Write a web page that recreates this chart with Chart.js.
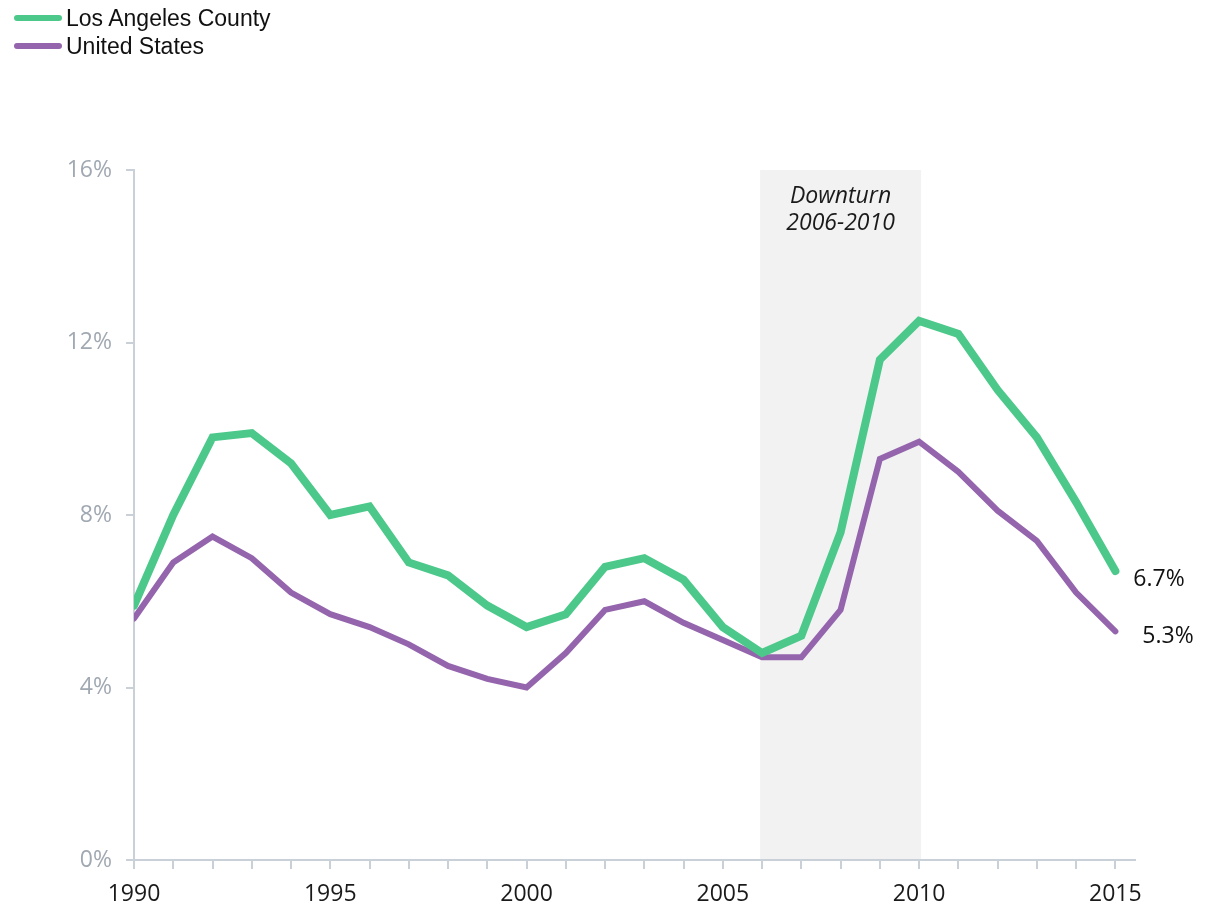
<!DOCTYPE html>
<html>
<head>
<meta charset="utf-8">
<script src="https://cdn.jsdelivr.net/npm/chart.js"></script>
<style>
  html, body { margin: 0; padding: 0; background: #fff; }
  #wrap { position: relative; width: 1217px; height: 907px; }
  #legend { position: absolute; left: 14px; top: 4px; font-family: "Liberation Sans", Arial, sans-serif; font-size: 23px; color: #111; }
  .item { display: flex; align-items: center; height: 28px; }
  .swatch { width: 48px; height: 6px; border-radius: 3px; margin-right: 4px; }
</style>
</head>
<body>
<div id="wrap">
  <canvas id="myChart" width="1217" height="907"></canvas>
  <div id="legend"></div>
</div>
<script>
// unemployment rate, annual averages (%)
const years = [1990, 1991, 1992, 1993, 1994, 1995, 1996, 1997, 1998, 1999,
               2000, 2001, 2002, 2003, 2004, 2005, 2006, 2007, 2008, 2009,
               2010, 2011, 2012, 2013, 2014, 2015]
const laCounty = [5.9, 8.0, 9.8, 9.9, 9.2, 8.0, 8.2, 6.9, 6.6, 5.9,
                  5.4, 5.7, 6.8, 7.0, 6.5, 5.4, 4.8, 5.2, 7.6, 11.6,
                  12.5, 12.2, 10.9, 9.8, 8.3, 6.7]
const unitedStates = [5.6, 6.9, 7.5, 7.0, 6.2, 5.7, 5.4, 5.0, 4.5, 4.2,
                      4.0, 4.8, 5.8, 6.0, 5.5, 5.1, 4.7, 4.7, 5.8, 9.3,
                      9.7, 9.0, 8.1, 7.4, 6.2, 5.3]
const yTicks = [0, 4, 8, 12, 16]
const xLabelYears = [1990, 1995, 2000, 2005, 2010, 2015]
const downturn = [2006, 2010]
const downturnText = ['Downturn', '2006-2010']

const GREEN = '#4cc98a'
const PURPLE = '#9464ad'
const AXIS = '#c9d0d8'
const FONT = '"Open Sans", "DejaVu Sans", sans-serif'

const series = [
    { label: 'Los Angeles County', data: laCounty, color: GREEN, width: 8 },
    { label: 'United States', data: unitedStates, color: PURPLE, width: 6 }
]

// html legend, top left
document.getElementById('legend').innerHTML = series.map(s =>
    `<div class="item"><span class="swatch" style="background:${s.color}"></span>${s.label}</div>`
).join('')

const shadePlugin = {
    id: 'shade',
    beforeDraw(chart) {
        const { ctx, chartArea, scales: { x } } = chart
        const x0 = x.getPixelForValue(downturn[0]) - 2
        const x1 = x.getPixelForValue(downturn[1]) + 2
        ctx.save()
        ctx.fillStyle = '#f2f2f2'
        ctx.fillRect(x0, chartArea.top, x1 - x0, chartArea.bottom - chartArea.top)
        ctx.fillStyle = '#1a1a1a'
        ctx.font = 'italic 23px ' + FONT
        ctx.textAlign = 'center'
        ctx.textBaseline = 'alphabetic'
        downturnText.forEach((t, i) => ctx.fillText(t, (x0 + x1) / 2, chartArea.top + 33 + i * 27))
        ctx.restore()
    }
}

const endLabelPlugin = {
    id: 'endLabels',
    afterDatasetsDraw(chart) {
        const { ctx } = chart
        const offsets = [[18, 8], [27, 5]]
        ctx.save()
        ctx.fillStyle = '#111'
        ctx.font = '23px ' + FONT
        ctx.textAlign = 'left'
        ctx.textBaseline = 'middle'
        chart.data.datasets.forEach((ds, i) => {
            const pts = chart.getDatasetMeta(i).data
            const p = pts[pts.length - 1]
            const v = ds.data[ds.data.length - 1]
            ctx.fillText(v.y.toFixed(1) + '%', p.x + offsets[i][0], p.y + offsets[i][1])
        })
        ctx.restore()
    }
}

const config = {
    type: 'line',
    data: {
        datasets: series.map(s => ({
            label: s.label,
            data: years.map((yr, i) => ({ x: yr, y: s.data[i] })),
            borderColor: s.color,
            backgroundColor: s.color,
            borderWidth: s.width,
            borderCapStyle: 'round',
            borderJoinStyle: 'miter',
            pointRadius: 0,
            tension: 0,
            fill: false
        }))
    },
    options: {
        responsive: false,
        animation: false,
        devicePixelRatio: 1,
        layout: { padding: { top: 170, right: 82, left: 0, bottom: 0 } },
        plugins: { legend: { display: false }, tooltip: { enabled: false } },
        scales: {
            x: {
                type: 'linear',
                min: 1990,
                max: 2015.5,
                afterFit: s => { s.height = 47 },
                afterBuildTicks: s => { s.ticks = years.map(v => ({ value: v })) },
                border: { display: true, color: AXIS, width: 2 },
                grid: { drawOnChartArea: false, drawTicks: true, tickLength: 9, color: AXIS, lineWidth: 2 },
                ticks: {
                    autoSkip: false,
                    maxRotation: 0,
                    padding: 12,
                    color: '#1a1a1a',
                    font: { family: FONT, size: 23 },
                    callback: v => xLabelYears.includes(v) ? String(v) : ''
                }
            },
            y: {
                min: 0,
                max: 16,
                afterFit: s => { s.width = 134 },
                afterBuildTicks: s => { s.ticks = yTicks.map(v => ({ value: v })) },
                border: { display: true, color: AXIS, width: 2 },
                grid: { drawOnChartArea: false, drawTicks: true, tickLength: 8, color: AXIS, lineWidth: 2 },
                ticks: {
                    padding: 14,
                    color: '#a0a8b2',
                    font: { family: FONT, size: 23 },
                    callback: v => v + '%'
                }
            }
        }
    },
    plugins: [shadePlugin, endLabelPlugin]
}

const myChart = new Chart(document.getElementById('myChart'), config)
</script>
</body>
</html>
